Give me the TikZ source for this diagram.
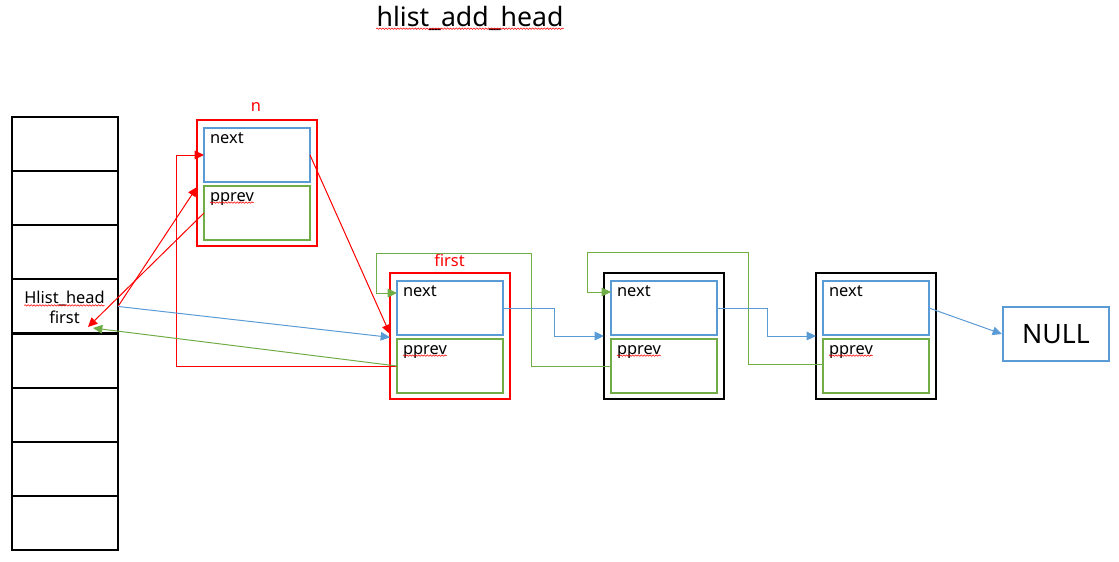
\documentclass[tikz,border=0pt]{standalone}
\usepackage{fontspec}
\setmainfont{Noto Sans}
\usetikzlibrary{arrows.meta,decorations.pathmorphing,calc}
\definecolor{lnblue}{HTML}{5B9BD5}
\definecolor{lngreen}{HTML}{70AD47}

% one list entry: frame, "next" field, "pprev" field and their labels
% #1 name, #2 x, #3 y, #4 frame colour
\newcommand\listentry[4]{%
  \node[outerbox, draw=#4] (#1) at (#2,#3) {};
  \node[nextbox] (#1n) at (#2,{#3-28}) {};
  \node[pprevbox] (#1p) at (#2,{#3+30}) {};
  \node[lbl, anchor=base west] (#1nt) at ($(#1n.north west)+(6,16)$) {next};
  \node[lbl, anchor=base west] (#1pt) at ($(#1p.north west)+(6,15)$) {pprev};
  \draw[squig] ([yshift=-1.2pt]#1pt.base west) -- ([yshift=-1.2pt]#1pt.base east);
}

\begin{document}
\begin{tikzpicture}[x=0.75pt,y=-0.75pt,
  lbl/.style={inner sep=0pt, outer sep=0pt, font=\fontsize{12.3}{14}\selectfont},
  cell/.style={draw=black, line width=1.6pt, minimum width=79.5pt, minimum height=40.6pt, inner sep=0pt, outer sep=0pt},
  outerbox/.style={line width=1.6pt, minimum width=90pt, minimum height=95pt, inner sep=0pt, outer sep=0pt},
  nextbox/.style={draw=lnblue, line width=1.6pt, minimum width=79.5pt, minimum height=41pt, inner sep=0pt, outer sep=0pt},
  pprevbox/.style={draw=lngreen, line width=1.6pt, minimum width=79.5pt, minimum height=40.5pt, inner sep=0pt, outer sep=0pt},
  squig/.style={draw=red, line width=0.4pt, decorate, decoration={snake, amplitude=0.55pt, segment length=2.2pt}},
  tip/.style={-{Triangle[length=7pt, width=6.5pt]}},
  redc/.style={tip, draw=red, line width=0.75pt},
  bluec/.style={tip, draw=lnblue, line width=0.75pt},
  greenc/.style={tip, draw=lngreen, line width=0.75pt}]

\useasboundingbox (0,0) rectangle (1119,561);

% title
\node[inner sep=0pt, anchor=base, font=\fontsize{20}{23}\selectfont] (title) at (470,26) {hlist\_add\_head};
\draw[squig] ([yshift=-2pt]title.base west) -- ([yshift=-2pt]title.base east);

% hash table column
\foreach \i in {0,...,7}
  \node[cell] (c\i) at (65,{117+54.125*(\i+0.5)}) {};
\node[lbl, anchor=base] (hhead) at (64.5,303) {Hlist\_head};
\draw[squig] ([yshift=-1.8pt]hhead.base west) -- ([yshift=-1.8pt]hhead.base east);
\node[lbl, anchor=base] (hfirst) at (64.5,323) {first};
\coordinate (tipR) at (88,327);
\coordinate (tipG) at (93,328);

% list entries
\listentry{nd1}{257}{183}{red}
\listentry{nd2}{450}{336}{red}
\listentry{nd3}{664}{336}{black}
\listentry{nd4}{876}{336}{black}
\node[lbl, anchor=base, text=red] (nlab) at (256,111) {n};
\node[lbl, anchor=base, text=red] (flab) at (449.5,266) {first};

% NULL terminator
\node[draw=lnblue, line width=1.6pt, minimum width=79.5pt, minimum height=40.5pt, inner sep=0pt,
      font=\fontsize{20}{24}\selectfont] (null) at (1056,334) {NULL};

% links set up by hlist_add_head
\draw[redc] (nd1n.east) -- ([yshift=1.5pt]nd2.west);
\draw[redc] (c3.east) -- ([yshift=-3pt]nd1.west);
\draw[redc] (nd1p.west) -- (tipR);
\draw[redc] (nd2p.west) -- ++(-221,0) |- (nd1n.west);

% existing links
\draw[bluec] (c3.east) -- ([yshift=-1pt]nd2.west);
\draw[greenc] (nd2p.west) -- (tipG);
\draw[greenc] (nd3p.west) -- (531,366) -- (531,253) -- (376,253) -- (376,293) -- (nd2n.west |- 0,293);
\draw[greenc] ([yshift=1.5pt]nd4p.west) -- (748,364) -- (748,252) -- (587,252) -- (587,292) -- (nd3n.west |- 0,292);
\draw[bluec] (nd2n.east) -- (554,308) |- (nd3.west);
\draw[bluec] (nd3n.east) -- (767,308) |- (nd4.west);
\draw[bluec] (nd4n.east) -- (null.west);

\end{tikzpicture}
\end{document}
